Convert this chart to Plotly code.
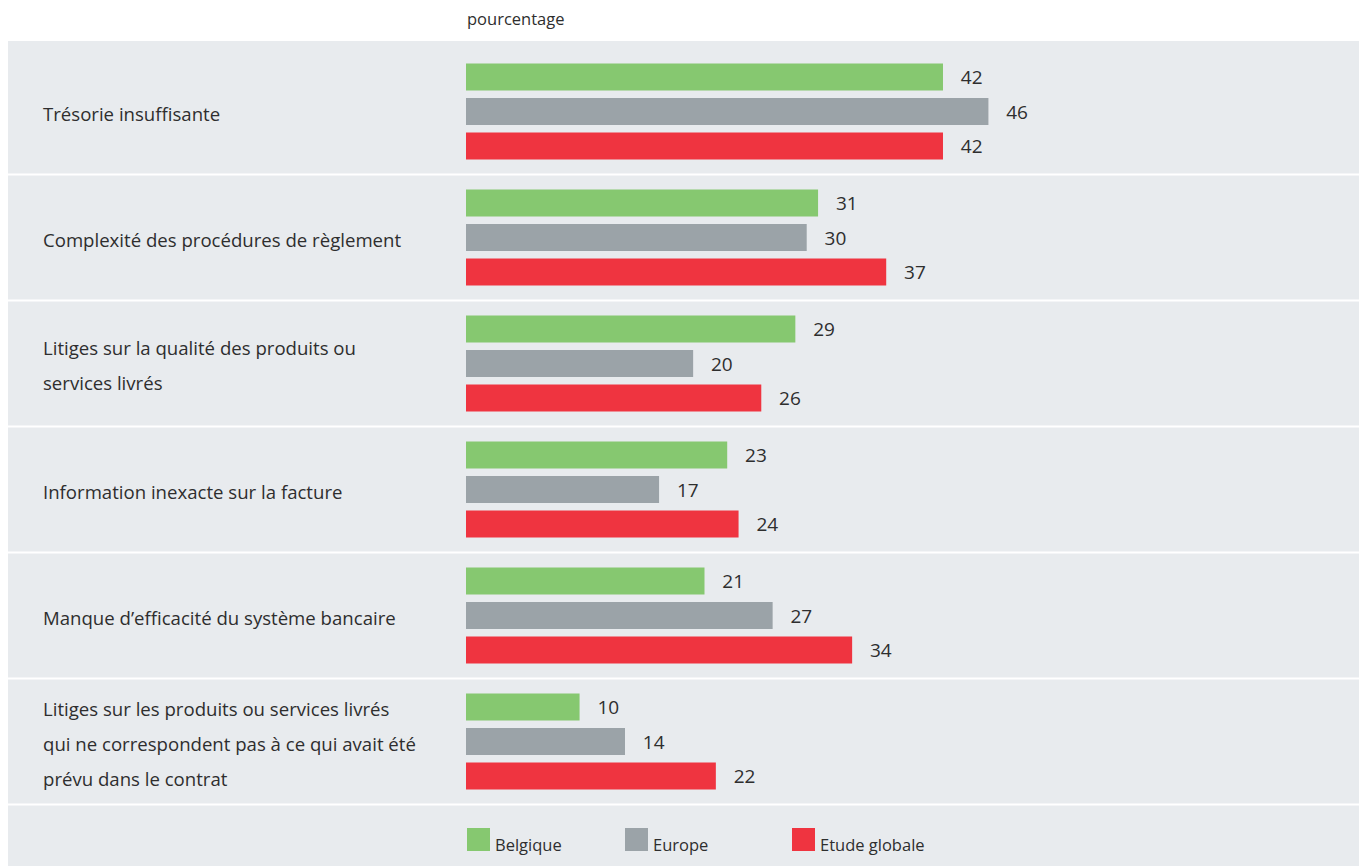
import plotly.graph_objects as go

# Survey data: share of respondents (%) citing each reason for late payment
label_lines = [
    ["Trésorie insuffisante"],
    ["Complexité des procédures de règlement"],
    ["Litiges sur la qualité des produits ou", "services livrés"],
    ["Information inexacte sur la facture"],
    ["Manque d’efficacité du système bancaire"],
    ["Litiges sur les produits ou services livrés",
     "qui ne correspondent pas à ce qui avait été",
     "prévu dans le contrat"],
]
belgique = [42, 31, 29, 23, 21, 10]
europe = [46, 30, 20, 17, 27, 14]
globale = [42, 37, 26, 24, 34, 22]

series_names = ["Belgique", "Europe", "Etude globale"]
series_values = [belgique, europe, globale]
series_colors = ["#86C870", "#9BA3A8", "#EF3440"]

W, H = 1359, 866
FONT = "Open Sans"
TXT = "#2e2e2e"
PANEL = "#E8EBEE"

# pixel geometry of the layout
x0_px = 466            # where value 0 sits
px_per_unit = 11.357   # horizontal scale
row_h = 126            # height of one category band
first_center = 111.5   # pixel centre of the first band's bar group
panel_top = 41

def px_x(p):
    return p / W

def px_y(p):
    return 1 - p / H

n = len(label_lines)
ypos = list(range(n))

fig = go.Figure()
for name, vals, col in zip(series_names, series_values, series_colors):
    fig.add_trace(go.Bar(
        y=ypos, x=vals, name=name, orientation="h",
        marker=dict(color=col, line=dict(width=0)),
        text=vals,
        texttemplate="\u00a0\u00a0\u00a0%{x}",
        textposition="outside",
        constraintext="none",
        cliponaxis=False,
        textfont=dict(family=FONT, size=19, color=TXT),
        showlegend=False,
        hoverinfo="skip",
    ))

shapes = [
    # grey panel
    dict(type="rect", xref="paper", yref="paper", layer="below",
         x0=px_x(8), x1=1, y0=0, y1=px_y(panel_top),
         fillcolor=PANEL, line=dict(width=0)),
]
# white separators between bands
for i in range(n):
    shapes.append(dict(type="line", xref="paper", yref="y", layer="below",
                       x0=px_x(8), x1=1, y0=i + 0.5, y1=i + 0.5,
                       line=dict(color="white", width=2)))

annotations = [
    dict(text="pourcentage", xref="paper", yref="paper",
         x=px_x(465), y=px_y(19), xanchor="left", yanchor="middle",
         showarrow=False, font=dict(family=FONT, size=16.5, color=TXT)),
]
# category labels, one annotation per line for a wider line spacing
line_gap = 35
for i, lines in enumerate(label_lines):
    m = len(lines)
    for k, line in enumerate(lines):
        annotations.append(dict(
            text=line, xref="paper", yref="y", x=px_x(41), y=i,
            xanchor="left", yanchor="middle", showarrow=False,
            yshift=((m - 1) / 2 - k) * line_gap - 1.5,
            font=dict(family=FONT, size=18.6, color=TXT)))

# legend: coloured squares with labels
legend_x = [467, 625, 792]
sq = 23
leg_top = 828
for name, col, lx in zip(series_names, series_colors, legend_x):
    shapes.append(dict(type="rect", xref="paper", yref="paper",
                       x0=px_x(lx), x1=px_x(lx + sq),
                       y0=px_y(leg_top + sq), y1=px_y(leg_top),
                       fillcolor=col, line=dict(width=0)))
    annotations.append(dict(text=name, xref="paper", yref="paper",
                            x=px_x(lx + sq + 3), y=px_y(844),
                            xanchor="left", yanchor="middle", showarrow=False,
                            font=dict(family=FONT, size=16.5, color=TXT)))

fig.update_layout(
    width=W, height=H,
    margin=dict(l=0, r=0, t=0, b=0),
    paper_bgcolor="white", plot_bgcolor="rgba(0,0,0,0)",
    barmode="group", bargap=0.179, bargroupgap=0.217,
    xaxis=dict(range=[-x0_px / px_per_unit, (W - x0_px) / px_per_unit],
               visible=False, fixedrange=True),
    yaxis=dict(range=[(H - first_center) / row_h, -first_center / row_h],
               visible=False, fixedrange=True),
    shapes=shapes, annotations=annotations,
    font=dict(family=FONT, color=TXT),
)

fig.write_html("out.html")
